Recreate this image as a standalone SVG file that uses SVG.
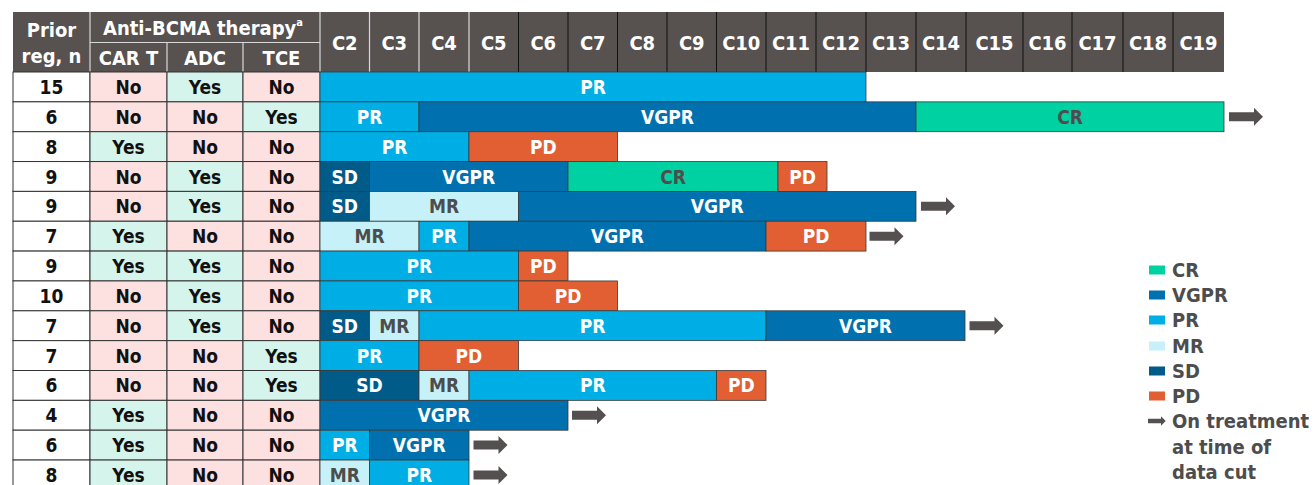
<svg xmlns="http://www.w3.org/2000/svg" width="1314" height="485" viewBox="0 0 1314 485">
<style>
.t{font-family:"DejaVu Sans Condensed","DejaVu Sans",sans-serif;font-stretch:condensed;font-weight:bold;font-size:19px;text-anchor:middle}
.h{font-size:20px}
.w{fill:#fff}.k{fill:#111}.g{fill:#4d4d4d}
.hd{fill:#575150}
.hl{stroke:#d9d9d9;stroke-width:1.2}
.hk{stroke:#111;stroke-width:1}
.cell{stroke:#333;stroke-width:1}
.pr{fill:#fff}.yes{fill:#D5F5EC}.no{fill:#FDE1E1}
.bar{stroke:#3a3a3a;stroke-width:0.8}
.CR{fill:#00D1A2}.VGPR{fill:#0071AE}.PR{fill:#00AEE6}.MR{fill:#C6F1F8}.SD{fill:#005B88}.PD{fill:#E15F33}
.arr{fill:#555050}
.lg{font-family:"DejaVu Sans Condensed","DejaVu Sans",sans-serif;font-stretch:condensed;font-weight:bold;font-size:20px;fill:#4d4d4d}
</style>
<defs>
<path id="arrow" d="M0,-4.5 H25 V-9 L34,0 L25,9 V4.5 H0 Z"/>
</defs>

<g id="header">
<rect class="hd" x="13" y="12" width="1211" height="60"/>
<line class="hl" x1="90" y1="12" x2="90" y2="72"/>
<line class="hl" x1="90" y1="42.5" x2="320" y2="42.5"/>
<line class="hl" x1="167" y1="42.5" x2="167" y2="72"/>
<line class="hl" x1="243" y1="42.5" x2="243" y2="72"/>
<line class="hl" x1="320" y1="12" x2="320" y2="72"/>
<line class="hl" x1="369.5" y1="12" x2="369.5" y2="72"/>
<line class="hl" x1="419" y1="12" x2="419" y2="72"/>
<line class="hl" x1="469" y1="12" x2="469" y2="72"/>
<g class="hk">
<line x1="518.5" y1="12" x2="518.5" y2="72"/>
<line x1="568" y1="12" x2="568" y2="72"/>
<line x1="617.5" y1="12" x2="617.5" y2="72"/>
<line x1="667" y1="12" x2="667" y2="72"/>
<line x1="716.5" y1="12" x2="716.5" y2="72"/>
<line x1="766" y1="12" x2="766" y2="72"/>
<line x1="816" y1="12" x2="816" y2="72"/>
<line x1="866" y1="12" x2="866" y2="72"/>
<line x1="916" y1="12" x2="916" y2="72"/>
<line x1="966" y1="12" x2="966" y2="72"/>
<line x1="1023" y1="12" x2="1023" y2="72"/>
<line x1="1072" y1="12" x2="1072" y2="72"/>
<line x1="1123" y1="12" x2="1123" y2="72"/>
<line x1="1173" y1="12" x2="1173" y2="72"/>
</g>
<text class="t h w" x="51.5" y="37">Prior</text>
<text class="t h w" x="51.5" y="63">reg, n</text>
<text class="t h w" x="203" y="35">Anti-BCMA therapy<tspan font-size="11" dy="-9">a</tspan></text>
<text class="t h w" x="128.5" y="65">CAR T</text>
<text class="t h w" x="205" y="65">ADC</text>
<text class="t h w" x="281.5" y="65">TCE</text>
<text class="t h w" x="344.75" y="50">C2</text>
<text class="t h w" x="394.25" y="50">C3</text>
<text class="t h w" x="444" y="50">C4</text>
<text class="t h w" x="493.75" y="50">C5</text>
<text class="t h w" x="543.25" y="50">C6</text>
<text class="t h w" x="592.75" y="50">C7</text>
<text class="t h w" x="642.25" y="50">C8</text>
<text class="t h w" x="691.75" y="50">C9</text>
<text class="t h w" x="741.25" y="50">C10</text>
<text class="t h w" x="791" y="50">C11</text>
<text class="t h w" x="841" y="50">C12</text>
<text class="t h w" x="891" y="50">C13</text>
<text class="t h w" x="941" y="50">C14</text>
<text class="t h w" x="994.5" y="50">C15</text>
<text class="t h w" x="1047.5" y="50">C16</text>
<text class="t h w" x="1097.5" y="50">C17</text>
<text class="t h w" x="1148" y="50">C18</text>
<text class="t h w" x="1198.5" y="50">C19</text>
</g>

<g id="row1">
<rect class="cell pr" x="13" y="72" width="77" height="29.85"/><rect class="cell no" x="90" y="72" width="77" height="29.85"/><rect class="cell yes" x="167" y="72" width="76" height="29.85"/><rect class="cell no" x="243" y="72" width="77" height="29.85"/>
<text class="t k" x="51.5" y="94">15</text><text class="t k" x="128.5" y="94">No</text><text class="t k" x="205" y="94">Yes</text><text class="t k" x="281.5" y="94">No</text>
<rect class="bar PR" x="320" y="72" width="546" height="29.85"/>
<text class="t w" x="593" y="94">PR</text>
</g>

<g id="row2">
<rect class="cell pr" x="13" y="101.85" width="77" height="29.85"/><rect class="cell no" x="90" y="101.85" width="77" height="29.85"/><rect class="cell no" x="167" y="101.85" width="76" height="29.85"/><rect class="cell yes" x="243" y="101.85" width="77" height="29.85"/>
<text class="t k" x="51.5" y="123.8">6</text><text class="t k" x="128.5" y="123.8">No</text><text class="t k" x="205" y="123.8">No</text><text class="t k" x="281.5" y="123.8">Yes</text>
<rect class="bar PR" x="320" y="101.85" width="99" height="29.85"/>
<rect class="bar VGPR" x="419" y="101.85" width="497" height="29.85"/>
<rect class="bar CR" x="916" y="101.85" width="308" height="29.85"/>
<text class="t w" x="369.5" y="123.8">PR</text><text class="t w" x="667.5" y="123.8">VGPR</text><text class="t g" x="1070" y="123.8">CR</text>
</g>

<g id="row3">
<rect class="cell pr" x="13" y="131.7" width="77" height="29.85"/><rect class="cell yes" x="90" y="131.7" width="77" height="29.85"/><rect class="cell no" x="167" y="131.7" width="76" height="29.85"/><rect class="cell no" x="243" y="131.7" width="77" height="29.85"/>
<text class="t k" x="51.5" y="153.6">8</text><text class="t k" x="128.5" y="153.6">Yes</text><text class="t k" x="205" y="153.6">No</text><text class="t k" x="281.5" y="153.6">No</text>
<rect class="bar PR" x="320" y="131.7" width="149" height="29.85"/>
<rect class="bar PD" x="469" y="131.7" width="148.5" height="29.85"/>
<text class="t w" x="394.5" y="153.6">PR</text><text class="t w" x="543.25" y="153.6">PD</text>
</g>

<g id="row4">
<rect class="cell pr" x="13" y="161.55" width="77" height="29.85"/><rect class="cell no" x="90" y="161.55" width="77" height="29.85"/><rect class="cell yes" x="167" y="161.55" width="76" height="29.85"/><rect class="cell no" x="243" y="161.55" width="77" height="29.85"/>
<text class="t k" x="51.5" y="183.5">9</text><text class="t k" x="128.5" y="183.5">No</text><text class="t k" x="205" y="183.5">Yes</text><text class="t k" x="281.5" y="183.5">No</text>
<rect class="bar SD" x="320" y="161.55" width="49.5" height="29.85"/>
<rect class="bar VGPR" x="369.5" y="161.55" width="198.5" height="29.85"/>
<rect class="bar CR" x="568" y="161.55" width="210" height="29.85"/>
<rect class="bar PD" x="778" y="161.55" width="49" height="29.85"/>
<text class="t w" x="344.75" y="183.5">SD</text><text class="t w" x="468.75" y="183.5">VGPR</text><text class="t g" x="673" y="183.5">CR</text><text class="t w" x="802.5" y="183.5">PD</text>
</g>

<g id="row5">
<rect class="cell pr" x="13" y="191.4" width="77" height="29.85"/><rect class="cell no" x="90" y="191.4" width="77" height="29.85"/><rect class="cell yes" x="167" y="191.4" width="76" height="29.85"/><rect class="cell no" x="243" y="191.4" width="77" height="29.85"/>
<text class="t k" x="51.5" y="213.3">9</text><text class="t k" x="128.5" y="213.3">No</text><text class="t k" x="205" y="213.3">Yes</text><text class="t k" x="281.5" y="213.3">No</text>
<rect class="bar SD" x="320" y="191.4" width="49.5" height="29.85"/>
<rect class="bar MR" x="369.5" y="191.4" width="149" height="29.85"/>
<rect class="bar VGPR" x="518.5" y="191.4" width="397.5" height="29.85"/>
<text class="t w" x="344.75" y="213.3">SD</text><text class="t g" x="444" y="213.3">MR</text><text class="t w" x="717.25" y="213.3">VGPR</text>
</g>

<g id="row6">
<rect class="cell pr" x="13" y="221.25" width="77" height="29.85"/><rect class="cell yes" x="90" y="221.25" width="77" height="29.85"/><rect class="cell no" x="167" y="221.25" width="76" height="29.85"/><rect class="cell no" x="243" y="221.25" width="77" height="29.85"/>
<text class="t k" x="51.5" y="243.2">7</text><text class="t k" x="128.5" y="243.2">Yes</text><text class="t k" x="205" y="243.2">No</text><text class="t k" x="281.5" y="243.2">No</text>
<rect class="bar MR" x="320" y="221.25" width="99" height="29.85"/>
<rect class="bar PR" x="419" y="221.25" width="50" height="29.85"/>
<rect class="bar VGPR" x="469" y="221.25" width="297" height="29.85"/>
<rect class="bar PD" x="766" y="221.25" width="100" height="29.85"/>
<text class="t g" x="369.5" y="243.2">MR</text><text class="t w" x="444" y="243.2">PR</text><text class="t w" x="617.5" y="243.2">VGPR</text><text class="t w" x="816" y="243.2">PD</text>
</g>

<g id="row7">
<rect class="cell pr" x="13" y="251.1" width="77" height="29.85"/><rect class="cell yes" x="90" y="251.1" width="77" height="29.85"/><rect class="cell yes" x="167" y="251.1" width="76" height="29.85"/><rect class="cell no" x="243" y="251.1" width="77" height="29.85"/>
<text class="t k" x="51.5" y="273">9</text><text class="t k" x="128.5" y="273">Yes</text><text class="t k" x="205" y="273">Yes</text><text class="t k" x="281.5" y="273">No</text>
<rect class="bar PR" x="320" y="251.1" width="198.5" height="29.85"/>
<rect class="bar PD" x="518.5" y="251.1" width="49.5" height="29.85"/>
<text class="t w" x="419.25" y="273">PR</text><text class="t w" x="543.25" y="273">PD</text>
</g>

<g id="row8">
<rect class="cell pr" x="13" y="280.95" width="77" height="29.85"/><rect class="cell no" x="90" y="280.95" width="77" height="29.85"/><rect class="cell yes" x="167" y="280.95" width="76" height="29.85"/><rect class="cell no" x="243" y="280.95" width="77" height="29.85"/>
<text class="t k" x="51.5" y="302.9">10</text><text class="t k" x="128.5" y="302.9">No</text><text class="t k" x="205" y="302.9">Yes</text><text class="t k" x="281.5" y="302.9">No</text>
<rect class="bar PR" x="320" y="280.95" width="198.5" height="29.85"/>
<rect class="bar PD" x="518.5" y="280.95" width="99" height="29.85"/>
<text class="t w" x="419.25" y="302.9">PR</text><text class="t w" x="568" y="302.9">PD</text>
</g>

<g id="row9">
<rect class="cell pr" x="13" y="310.8" width="77" height="29.85"/><rect class="cell no" x="90" y="310.8" width="77" height="29.85"/><rect class="cell yes" x="167" y="310.8" width="76" height="29.85"/><rect class="cell no" x="243" y="310.8" width="77" height="29.85"/>
<text class="t k" x="51.5" y="332.7">7</text><text class="t k" x="128.5" y="332.7">No</text><text class="t k" x="205" y="332.7">Yes</text><text class="t k" x="281.5" y="332.7">No</text>
<rect class="bar SD" x="320" y="310.8" width="49.5" height="29.85"/>
<rect class="bar MR" x="369.5" y="310.8" width="49.5" height="29.85"/>
<rect class="bar PR" x="419" y="310.8" width="347" height="29.85"/>
<rect class="bar VGPR" x="766" y="310.8" width="199" height="29.85"/>
<text class="t w" x="344.75" y="332.7">SD</text><text class="t g" x="394.25" y="332.7">MR</text><text class="t w" x="592.5" y="332.7">PR</text><text class="t w" x="865.5" y="332.7">VGPR</text>
</g>

<g id="row10">
<rect class="cell pr" x="13" y="340.65" width="77" height="29.85"/><rect class="cell no" x="90" y="340.65" width="77" height="29.85"/><rect class="cell no" x="167" y="340.65" width="76" height="29.85"/><rect class="cell yes" x="243" y="340.65" width="77" height="29.85"/>
<text class="t k" x="51.5" y="362.6">7</text><text class="t k" x="128.5" y="362.6">No</text><text class="t k" x="205" y="362.6">No</text><text class="t k" x="281.5" y="362.6">Yes</text>
<rect class="bar PR" x="320" y="340.65" width="99" height="29.85"/>
<rect class="bar PD" x="419" y="340.65" width="99.5" height="29.85"/>
<text class="t w" x="369.5" y="362.6">PR</text><text class="t w" x="468.75" y="362.6">PD</text>
</g>

<g id="row11">
<rect class="cell pr" x="13" y="370.5" width="77" height="29.85"/><rect class="cell no" x="90" y="370.5" width="77" height="29.85"/><rect class="cell no" x="167" y="370.5" width="76" height="29.85"/><rect class="cell yes" x="243" y="370.5" width="77" height="29.85"/>
<text class="t k" x="51.5" y="392.4">6</text><text class="t k" x="128.5" y="392.4">No</text><text class="t k" x="205" y="392.4">No</text><text class="t k" x="281.5" y="392.4">Yes</text>
<rect class="bar SD" x="320" y="370.5" width="99" height="29.85"/>
<rect class="bar MR" x="419" y="370.5" width="50" height="29.85"/>
<rect class="bar PR" x="469" y="370.5" width="247.5" height="29.85"/>
<rect class="bar PD" x="716.5" y="370.5" width="49.5" height="29.85"/>
<text class="t w" x="369.5" y="392.4">SD</text><text class="t g" x="444" y="392.4">MR</text><text class="t w" x="592.75" y="392.4">PR</text><text class="t w" x="741.25" y="392.4">PD</text>
</g>

<g id="row12">
<rect class="cell pr" x="13" y="400.35" width="77" height="29.85"/><rect class="cell yes" x="90" y="400.35" width="77" height="29.85"/><rect class="cell no" x="167" y="400.35" width="76" height="29.85"/><rect class="cell no" x="243" y="400.35" width="77" height="29.85"/>
<text class="t k" x="51.5" y="422.3">4</text><text class="t k" x="128.5" y="422.3">Yes</text><text class="t k" x="205" y="422.3">No</text><text class="t k" x="281.5" y="422.3">No</text>
<rect class="bar VGPR" x="320" y="400.35" width="248" height="29.85"/>
<text class="t w" x="444" y="422.3">VGPR</text>
</g>

<g id="row13">
<rect class="cell pr" x="13" y="430.2" width="77" height="29.85"/><rect class="cell yes" x="90" y="430.2" width="77" height="29.85"/><rect class="cell no" x="167" y="430.2" width="76" height="29.85"/><rect class="cell no" x="243" y="430.2" width="77" height="29.85"/>
<text class="t k" x="51.5" y="452.1">6</text><text class="t k" x="128.5" y="452.1">Yes</text><text class="t k" x="205" y="452.1">No</text><text class="t k" x="281.5" y="452.1">No</text>
<rect class="bar PR" x="320" y="430.2" width="49.5" height="29.85"/>
<rect class="bar VGPR" x="369.5" y="430.2" width="99.5" height="29.85"/>
<text class="t w" x="344.75" y="452.1">PR</text><text class="t w" x="419.25" y="452.1">VGPR</text>
</g>

<g id="row14">
<rect class="cell pr" x="13" y="460.05" width="77" height="29.85"/><rect class="cell yes" x="90" y="460.05" width="77" height="29.85"/><rect class="cell no" x="167" y="460.05" width="76" height="29.85"/><rect class="cell no" x="243" y="460.05" width="77" height="29.85"/>
<text class="t k" x="51.5" y="482">8</text><text class="t k" x="128.5" y="482">Yes</text><text class="t k" x="205" y="482">No</text><text class="t k" x="281.5" y="482">No</text>
<rect class="bar MR" x="320" y="460.05" width="49.5" height="29.85"/>
<rect class="bar PR" x="369.5" y="460.05" width="99.5" height="29.85"/>
<text class="t g" x="344.75" y="482">MR</text><text class="t w" x="419.25" y="482">PR</text>
</g>

<g id="connectors" class="arr">
<use href="#arrow" transform="translate(1229,116.8)"/>
<use href="#arrow" transform="translate(921,206.3)"/>
<use href="#arrow" transform="translate(869.5,236.2)"/>
<use href="#arrow" transform="translate(969.5,325.7)"/>
<use href="#arrow" transform="translate(572,415.3)"/>
<use href="#arrow" transform="translate(473.5,445.1)"/>
<use href="#arrow" transform="translate(473.5,475)"/>
</g>

<g id="legend">
<rect class="CR" x="1149" y="265.5" width="16" height="9"/>
<rect class="VGPR" x="1149" y="290.5" width="16" height="9"/>
<rect class="PR" x="1149" y="315.5" width="16" height="9"/>
<rect class="MR" x="1149" y="341.5" width="16" height="9"/>
<rect class="SD" x="1149" y="366.5" width="16" height="9"/>
<rect class="PD" x="1149" y="391.5" width="16" height="9"/>
<use class="arr" href="#arrow" transform="translate(1148,421) scale(0.52)"/>
<text class="lg" x="1172" y="277">CR</text>
<text class="lg" x="1172" y="302">VGPR</text>
<text class="lg" x="1172" y="327">PR</text>
<text class="lg" x="1172" y="353">MR</text>
<text class="lg" x="1172" y="378">SD</text>
<text class="lg" x="1172" y="403">PD</text>
<text class="lg" x="1172" y="428">On treatment</text>
<text class="lg" x="1172" y="453.5">at time of</text>
<text class="lg" x="1172" y="479">data cut</text>
</g>
</svg>
